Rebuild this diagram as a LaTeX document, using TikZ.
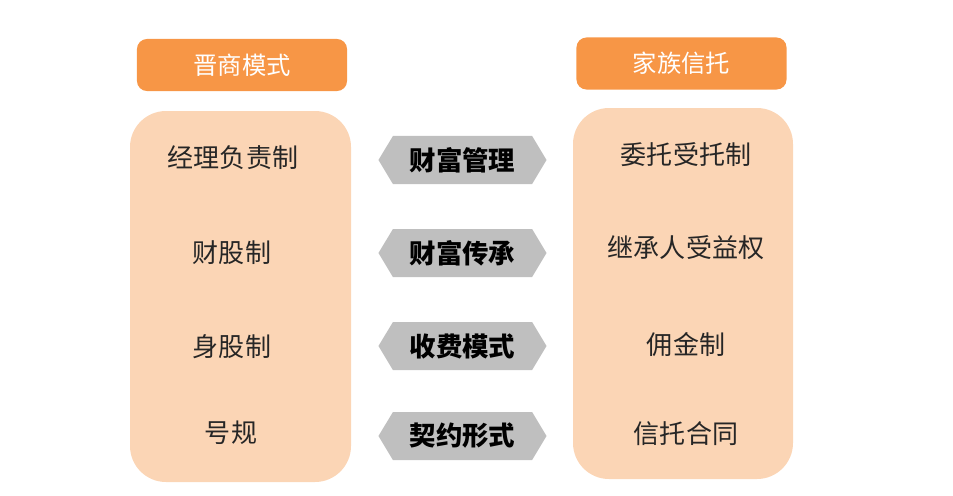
\documentclass[tikz,border=0pt]{standalone}
\usepackage{fontspec}
\newfontfamily\cjk{Noto Sans CJK SC}
\usetikzlibrary{shapes.symbols}
\definecolor{headorange}{HTML}{F79646}
\definecolor{paleorange}{HTML}{FBD5B5}
\definecolor{hexgray}{HTML}{BFBFBF}
\begin{document}
\begin{tikzpicture}[x=0.025cm,y=-0.025cm,
  header/.style={fill=headorange,rounded corners=2.5mm,minimum width=5.25cm,minimum height=1.3cm,text=white,font=\cjk\fontsize{17.3}{17.3}\selectfont},
  column/.style={fill=paleorange,rounded corners=9mm},
  item/.style={font=\cjk\fontsize{18.5}{18.5}\selectfont,text=black!85},
  link/.style={signal,signal to=west and east,signal pointer angle=118,fill=hexgray,minimum width=4.2cm,minimum height=1.2cm,inner sep=0pt,font=\cjk\bfseries\fontsize{18.8}{18.8}\selectfont}]
\useasboundingbox (0,0) rectangle (953,495);
% headers
\node[header] (jin) at (242,65) {晋商模式};
\node[header] (trust) at (681.5,63.5) {家族信托};
% columns
\fill[column] (130,111) rectangle (351,482);
\fill[column] (573,108) rectangle (793,479);
% left items
\node[item] (l1) at (233,158) {经理负责制};
\node[item] (l2) at (232,253) {财股制};
\node[item] (l3) at (232,347) {身股制};
\node[item] (l4) at (231,433) {号规};
% right items
\node[item] (r1) at (686,155) {委托受托制};
\node[item] (r2) at (686,248) {继承人受益权};
\node[item] (r3) at (686,345) {佣金制};
\node[item] (r4) at (686,434) {信托合同};
% middle links
\node[link] (m1) at (462.5,160) {财富管理};
\node[link] (m2) at (462.5,253) {财富传承};
\node[link] (m3) at (462.5,346) {收费模式};
\node[link] (m4) at (462.5,436) {契约形式};
\end{tikzpicture}
\end{document}
